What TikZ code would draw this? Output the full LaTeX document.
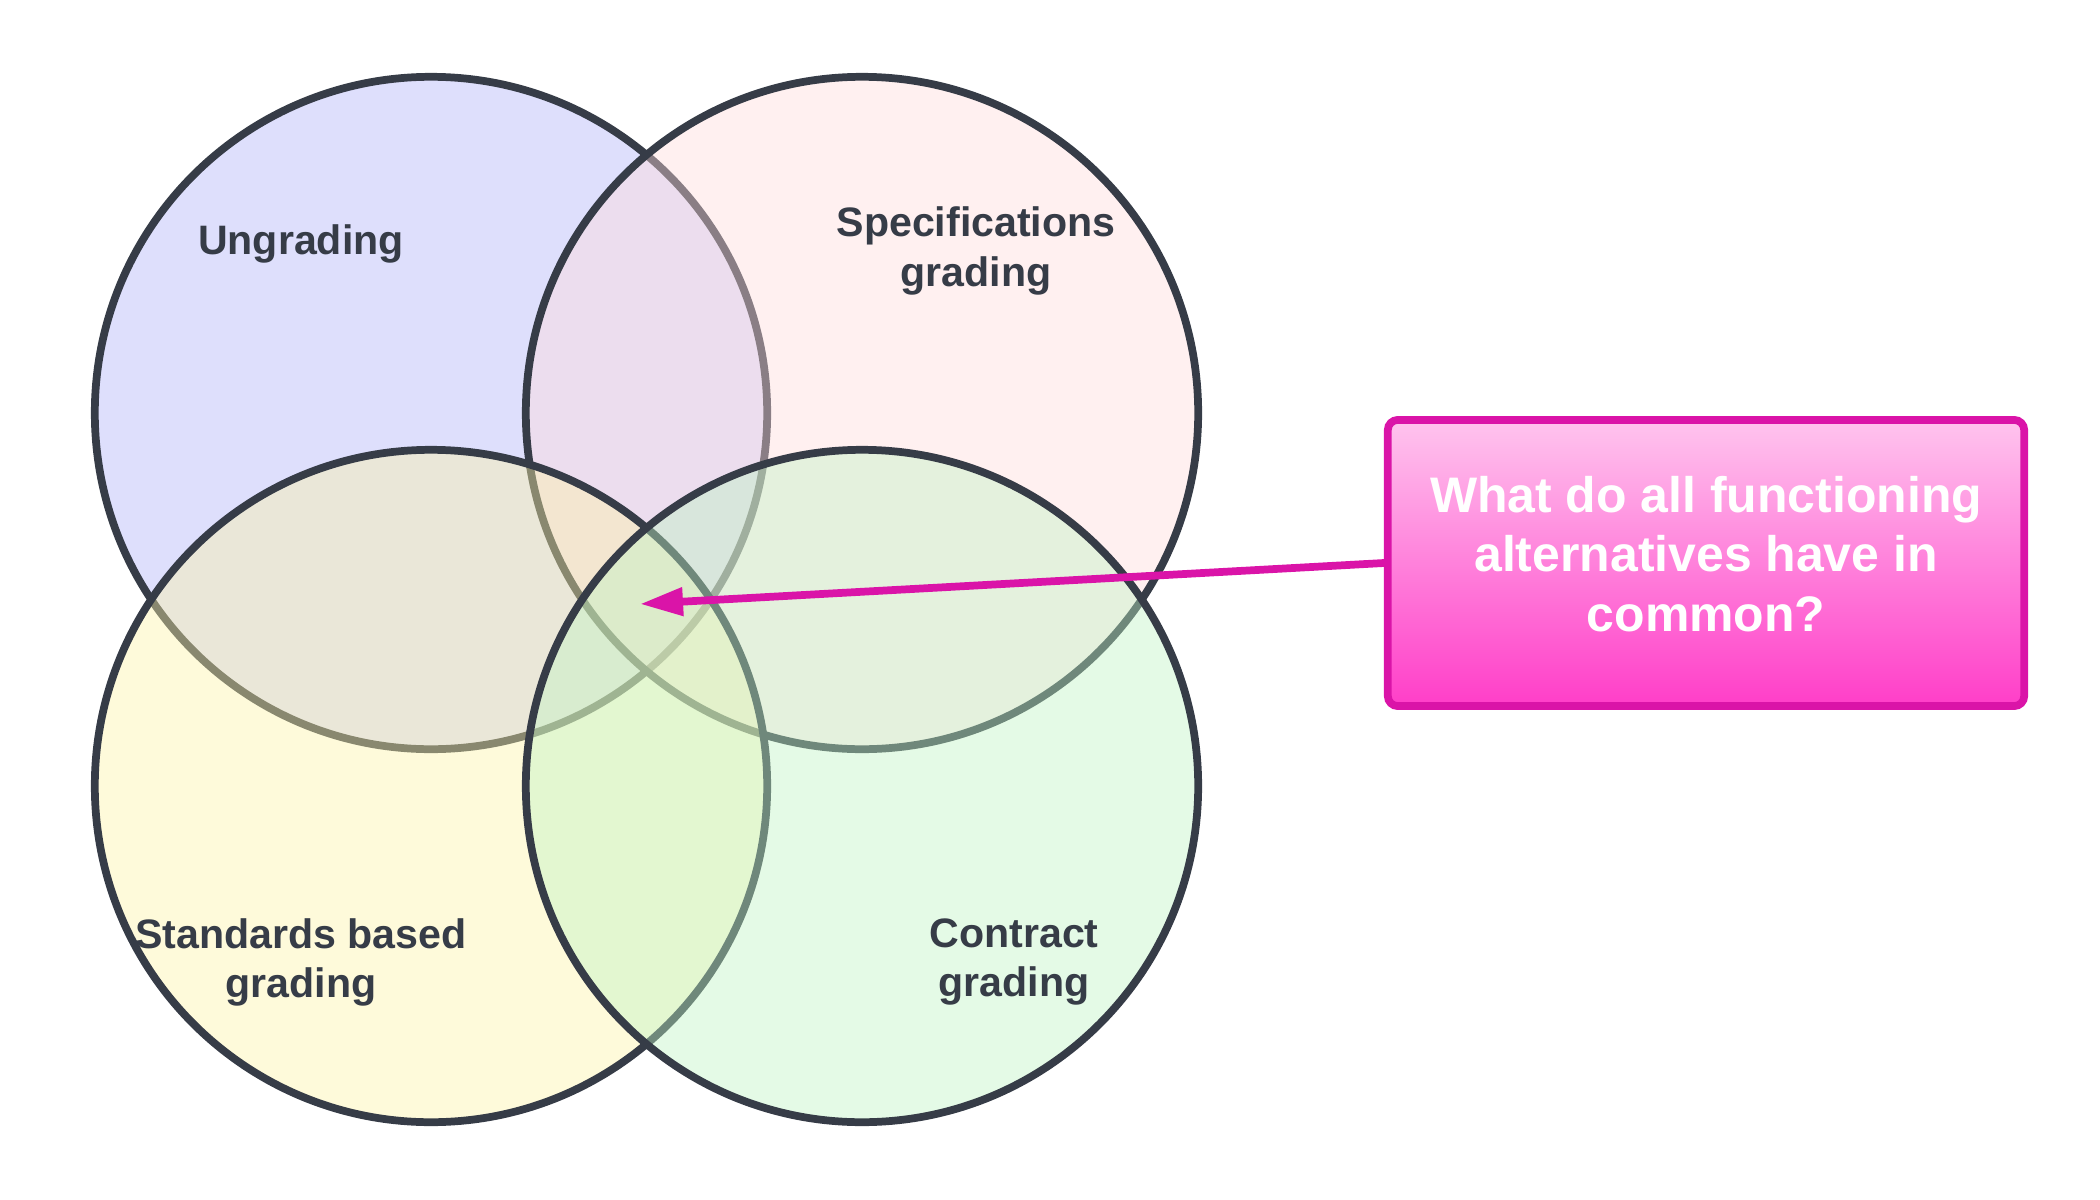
\documentclass[tikz,border=0pt]{standalone}
\usepackage{fontspec}
\setmainfont{Liberation Sans}
\usepackage{tikz}
\usetikzlibrary{arrows.meta}
\usetikzlibrary{positioning}
\usetikzlibrary{shapes}
\definecolor{ink}{RGB}{54,60,71}
\definecolor{ungrcol}{RGB}{176,179,248}
\definecolor{speccol}{RGB}{255,219,219}
\definecolor{standcol}{RGB}{253,243,167}
\definecolor{contrcol}{RGB}{191,243,195}
\definecolor{magenta}{RGB}{218,20,168}
\tikzstyle{venn}=[draw=ink,circle,line width=2.2pt,minimum size=6.72cm,fill opacity=0.42,inner sep=0pt]
\tikzstyle{caption}=[text=ink,font=\bfseries\fontsize{11.7}{14}\selectfont,align=center]

\begin{document}
\begin{tikzpicture}[x=0.01cm,y=-0.01cm]
\tikzstyle{question}=[draw=magenta,line width=2.2pt,rounded corners=1mm,top color={rgb,255:red,255;green,196;blue,238},bottom color={rgb,255:red,255;green,62;blue,200},minimum width=6.36cm,minimum height=2.86cm]
\useasboundingbox (0,0) rectangle (2100,1200);
    \node [venn,fill=ungrcol] (ungr) at (431,413) {};
    \node [venn,fill=speccol] (spec) at (862,413) {};
    \node [venn,fill=standcol] (stand) at (431,786) {};
    \node [venn,fill=contrcol] (contr) at (862,786) {};

\node at (ungr) [caption,xshift=-1.30cm,yshift=1.69cm] {Ungrading};
\node at (spec) [caption,xshift=1.14cm,yshift=1.62cm] {Specifications\\grading};
\node at (stand) [caption,xshift=-1.30cm,yshift=-1.76cm] {Standards based\\grading};
\node at (contr) [caption,xshift=1.52cm,yshift=-1.76cm] {Contract\\grading};

\node [question] (q) at (1706,563) {};
\node at (q) [yshift=0.09cm,text=white,font=\bfseries\fontsize{14.2}{17}\selectfont,align=center] (qtext) {What do all functioning\\alternatives have in\\common?};
\coordinate (tip) at (640,604);
\draw [magenta,line width=2.2pt,-{Triangle[length=4.3mm,width=2.7mm]}] (q.west) -- (tip);
\end{tikzpicture}
\end{document}
